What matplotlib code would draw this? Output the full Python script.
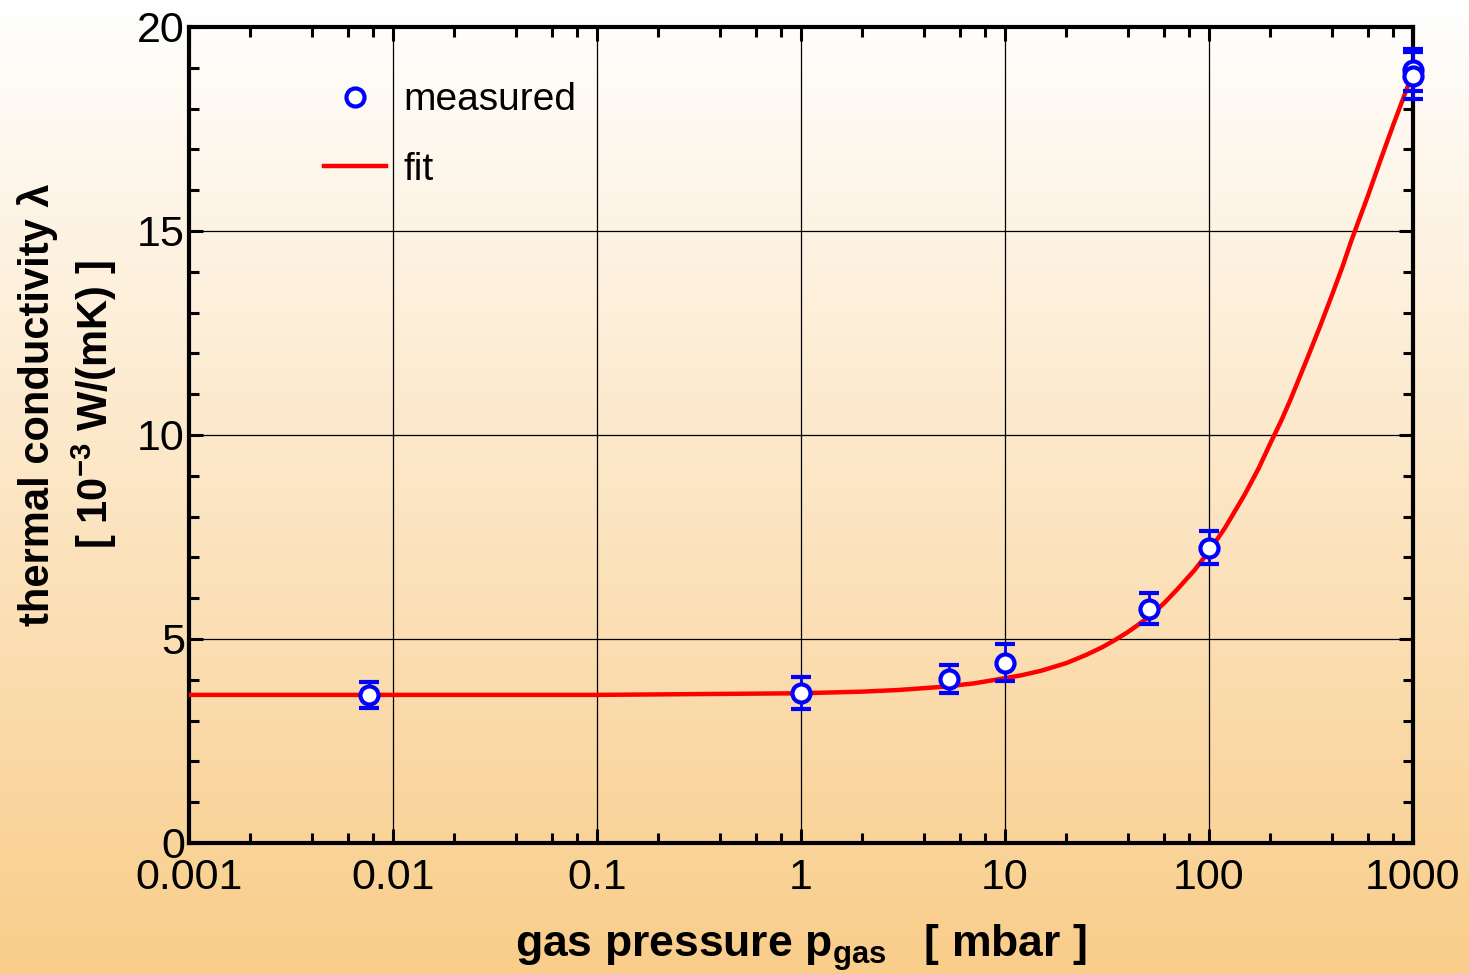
import numpy as np
import matplotlib
matplotlib.use("Agg")
import matplotlib.pyplot as plt
from matplotlib.ticker import FixedLocator, NullFormatter
from matplotlib.lines import Line2D

plt.rcParams['font.family'] = ['Liberation Sans', 'DejaVu Sans']
plt.rcParams['mathtext.fontset'] = 'custom'
plt.rcParams['mathtext.rm'] = 'Liberation Sans'
plt.rcParams['mathtext.bf'] = 'Liberation Sans:bold'
plt.rcParams['mathtext.it'] = 'Liberation Sans:italic'

# measured data
p_meas = [0.0076, 1.0, 5.3, 10.0, 51.0, 100.0, 1000.0, 1000.0]
lam_meas = [3.63, 3.68, 4.02, 4.42, 5.74, 7.24, 18.95, 18.81]
lam_err = [0.31, 0.40, 0.34, 0.46, 0.38, 0.40, 0.51, 0.57]

# fit curve
p_fit = [0.001, 0.01, 0.1, 1, 2, 3, 5, 7, 10, 12, 15, 20, 25, 30, 35, 40, 45,
         50, 60, 70, 85, 100, 120, 150, 175, 200, 225, 250, 300, 350, 400,
         450, 500, 600, 700, 800, 900, 1000]
lam_fit = [3.63, 3.63, 3.63, 3.67, 3.71, 3.75, 3.83, 3.91, 4.04, 4.11, 4.22,
           4.41, 4.61, 4.80, 4.99, 5.17, 5.35, 5.52, 5.87, 6.22, 6.69, 7.15,
           7.73, 8.55, 9.18, 9.80, 10.33, 10.85, 11.82, 12.66, 13.42, 14.11,
           14.78, 15.85, 16.80, 17.60, 18.28, 18.88]

xticks = [0.001, 0.01, 0.1, 1, 10, 100, 1000]
xticklabels = ['0.001', '0.01', '0.1', '1', '10', '100', '1000']
yticks = [0, 5, 10, 15, 20]

W, H = 1469, 974
fig = plt.figure(figsize=(W / 100, H / 100), dpi=100)

# gradient background
bg = fig.add_axes([0, 0, 1, 1], zorder=-10)
top = np.array([255, 255, 255]) / 255.0
bot = np.array([249, 205, 138]) / 255.0
t = np.linspace(0, 1, 512)[:, None]
grad = (top[None, :] * (1 - t) + bot[None, :] * t)[:, None, :]
bg.imshow(grad, aspect='auto', extent=[0, 1, 0, 1], origin='upper')
bg.axis('off')

ax = fig.add_axes([189 / W, 1 - 843 / H, (1413 - 189) / W, (843 - 27) / H])
ax.set_facecolor('none')
ax.set_xscale('log')
ax.set_xlim(0.001, 1000)
ax.set_ylim(0, 20)

ax.plot(p_fit, lam_fit, color='#ff0000', lw=3.2, zorder=3,
        solid_capstyle='butt', solid_joinstyle='round')
ax.errorbar(p_meas, lam_meas, yerr=lam_err, fmt='o', color='#0000ff',
            mfc='white', mec='#0000ff', ms=13, mew=3.0, elinewidth=2.0,
            capsize=7, capthick=2.0, zorder=4, clip_on=False)

ax.set_xticks(xticks)
ax.set_xticklabels(xticklabels)
minors = []
for d in xticks[:-1]:
    for m in [2, 4, 6, 8]:
        minors.append(d * m)
ax.xaxis.set_minor_locator(FixedLocator(minors))
ax.xaxis.set_minor_formatter(NullFormatter())
ax.set_yticks(yticks)
ax.yaxis.set_minor_locator(FixedLocator([v for v in range(0, 21) if v % 5 != 0]))

ax.tick_params(which='both', direction='in', top=True, right=True, width=2.2,
               labelsize=31, colors='black', pad=3)
ax.tick_params(which='major', length=10)
ax.tick_params(which='minor', length=7)
ax.tick_params(axis='x', pad=11)
for s in ax.spines.values():
    s.set_linewidth(3.0)

ax.grid(True, which='major', color='black', lw=0.9)
ax.set_axisbelow(True)

ax.set_xlabel(r'gas pressure $\mathbf{p_{gas}}$   [ mbar ]', fontsize=32,
              fontweight='bold', labelpad=17)
fig.text(68 / W, 1 - 405 / H,
         'thermal conductivity λ\n' + r'[ $\mathbf{10^{-3}}$ W/(mK) ]',
         rotation=90, ha='center', va='center', fontsize=30, fontweight='bold',
         multialignment='center', linespacing=1.3)

h1 = Line2D([], [], ls='none', marker='o', mfc='white', mec='#0000ff', ms=13, mew=3.0)
h2 = Line2D([], [], color='#ff0000', lw=3.2)
leg = ax.legend([h1, h2], ['measured', 'fit'], loc='upper left',
                bbox_to_anchor=(0.11, 0.932), frameon=False, fontsize=28,
                handlelength=1.6, handletextpad=0.45, labelspacing=0.86,
                borderpad=0, borderaxespad=0)

fig.savefig('out.png', dpi=100)
